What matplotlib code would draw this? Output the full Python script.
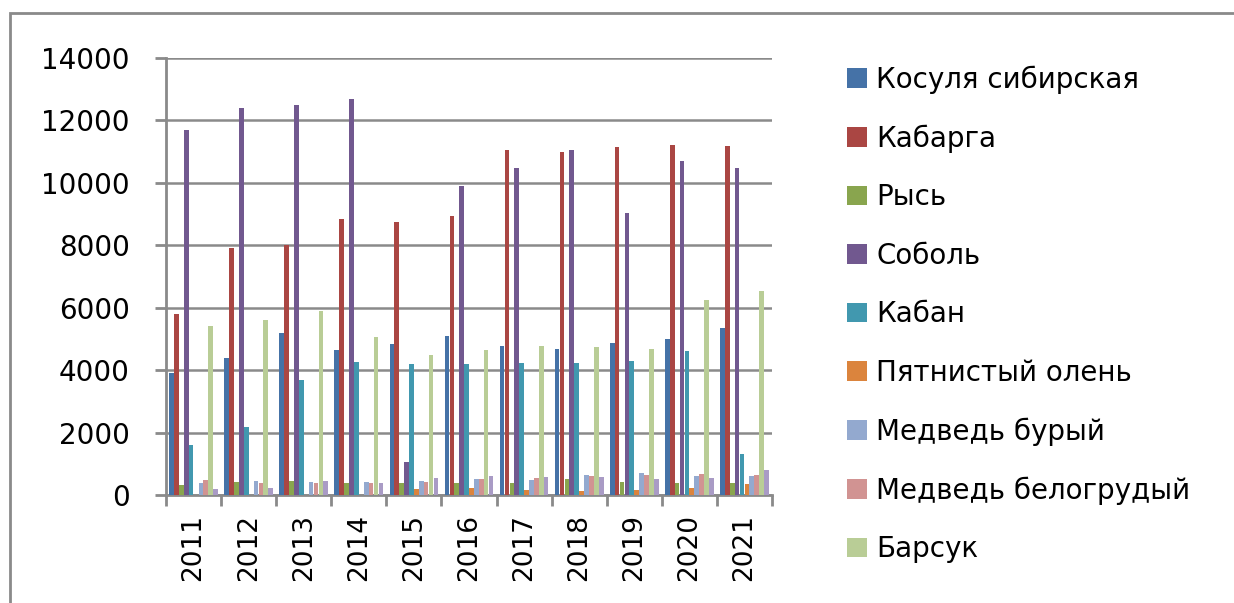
import matplotlib.pyplot as plt
import numpy as np
from matplotlib.patches import Rectangle

years = ['2011', '2012', '2013', '2014', '2015', '2016', '2017', '2018', '2019', '2020', '2021']
names = ['Косуля сибирская', 'Кабарга', 'Рысь', 'Соболь', 'Кабан',
         'Пятнистый олень', 'Медведь бурый', 'Медведь белогрудый', 'Барсук', None]

kosulya = [3900, 4400, 5200, 4650, 4850, 5100, 4780, 4680, 4870, 5000, 5350]
kabarga = [5800, 7900, 8000, 8850, 8750, 8950, 11050, 11000, 11150, 11200, 11170]
rys = [320, 430, 450, 400, 400, 400, 400, 500, 420, 370, 400]
sobol = [11700, 12400, 12500, 12700, 1060, 9900, 10470, 11050, 9030, 10700, 10480]
kaban = [1600, 2170, 3700, 4250, 4200, 4200, 4240, 4240, 4300, 4620, 1320]
olen = [0, 0, 0, 0, 180, 210, 160, 130, 160, 210, 350]
medv_bury = [400, 460, 430, 430, 460, 510, 480, 640, 710, 600, 620]
medv_belo = [480, 400, 370, 400, 420, 510, 530, 600, 630, 660, 640]
barsuk = [5400, 5600, 5900, 5050, 4500, 4650, 4780, 4750, 4680, 6250, 6550]
unnamed = [180, 210, 460, 400, 560, 610, 590, 570, 520, 550, 800]

series = [kosulya, kabarga, rys, sobol, kaban, olen, medv_bury, medv_belo, barsuk, unnamed]
colors = ['#4572A7', '#AA4643', '#89A54E', '#71588F', '#4198AF', '#DB843D',
          '#93A9CF', '#D19392', '#B9CD96', '#A99BC5']

fig = plt.figure(figsize=(12.34, 6.03), dpi=100)
ax = fig.add_axes([166 / 1234, 108 / 603, 606 / 1234, 437 / 603])

# outer chart frame
fig.patches.append(Rectangle((10 / 1234, -0.05), 1.2, (603 - 13) / 603 + 0.05,
                             transform=fig.transFigure, fill=False,
                             edgecolor='#8a8a8a', lw=2))

x = np.arange(len(years))
bw = 0.089
n = len(series)
for i, (vals, c, name) in enumerate(zip(series, colors, names)):
    off = (i - (n - 1) / 2) * bw
    ax.bar(x + off, vals, width=bw * 0.95, color=c, zorder=3,
           label=name if name else '_nolegend_')

ax.set_xlim(-0.5, len(years) - 0.5)
ax.set_ylim(0, 14000)
ax.set_yticks(range(0, 14001, 2000))
ax.yaxis.grid(True, color='#8a8a8a', lw=1.8, zorder=0)

ax.set_xticks(np.arange(-0.5, len(years), 1))
ax.set_xticklabels([])
ax.set_xticks(x, minor=True)
ax.set_xticklabels(years, minor=True, rotation=90, fontsize=19)
ax.tick_params(axis='x', which='minor', length=0, pad=14)
ax.tick_params(axis='x', which='major', length=8, width=2, color='#8a8a8a')
ax.tick_params(axis='y', length=8, width=2, color='#8a8a8a', labelsize=20, pad=18)

for s in ['top', 'right']:
    ax.spines[s].set_visible(False)
for s in ['left', 'bottom']:
    ax.spines[s].set_color('#8a8a8a')
    ax.spines[s].set_linewidth(2)

leg = ax.legend(loc='upper left', bbox_to_anchor=(836 / 1234, 1 - 54 / 603),
                bbox_transform=fig.transFigure, frameon=False, fontsize=20,
                handlelength=0.7, handleheight=0.7, handletextpad=0.35,
                labelspacing=1.1, borderaxespad=0)

fig.savefig('out.png', dpi=100)
